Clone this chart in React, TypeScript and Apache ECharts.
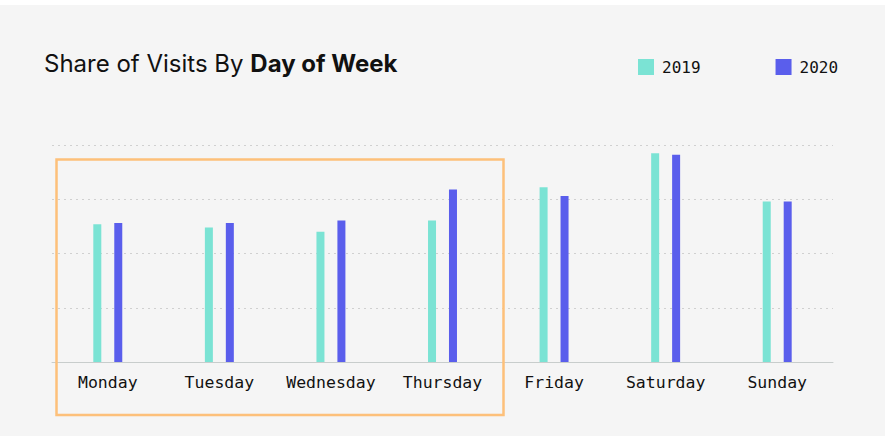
import React, { useEffect, useRef } from "react";
import * as echarts from "echarts";

const days = ["Monday", "Tuesday", "Wednesday", "Thursday", "Friday", "Saturday", "Sunday"];
const share2019 = [12.7, 12.4, 12.0, 13.05, 16.1, 19.25, 14.8];
const share2020 = [12.8, 12.8, 13.05, 15.9, 15.3, 19.1, 14.8];
const yTicks = [0, 5, 10, 15, 20];

const TEAL = "#7be3d4";
const BLUE = "#5a5eec";
const MONO = "'DejaVu Sans Mono', 'Liberation Mono', monospace";

export default function App() {
  const ref = useRef<HTMLDivElement>(null);
  useEffect(() => {
    if (!ref.current) return;
    const chart = echarts.init(ref.current, null, { renderer: "svg" });
    chart.setOption({
      animation: false,
      backgroundColor: "#ffffff",
      graphic: [
        {
          type: "rect",
          z: -10,
          silent: true,
          shape: { x: 0, y: 5, width: 885, height: 431 },
          style: { fill: "#f5f5f5" },
        },
        {
          type: "rect",
          z: 10,
          silent: true,
          shape: { x: 56.5, y: 159.5, width: 447, height: 255.5 },
          style: { fill: "none", stroke: "#fdc07a", lineWidth: 2.5 },
        },
      ],
      title: {
        left: 39,
        top: 46,
        text: "{r|Share of Visits By }{b|Day of Week}",
        textStyle: {
          rich: {
            r: { fontFamily: "Inter", fontSize: 24, fontWeight: 400, color: "#111" },
            b: { fontFamily: "Inter", fontSize: 24, fontWeight: 700, color: "#111" },
          },
        },
      },
      legend: {
        left: 633,
        top: 54,
        icon: "rect",
        itemWidth: 16,
        itemHeight: 16,
        itemGap: 75,
        textStyle: { fontFamily: MONO, fontSize: 16, color: "#111", padding: [0, 0, 0, 3] },
        data: ["2019", "2020"],
      },
      grid: { left: 52, right: 57, top: 145, bottom: 84, containLabel: false },
      xAxis: {
        type: "category",
        data: days,
        axisLine: { lineStyle: { color: "#c8cdcc", width: 1 } },
        axisTick: { show: false },
        axisLabel: { fontFamily: MONO, fontSize: 16.5, color: "#111", margin: 12, interval: 0 },
      },
      yAxis: {
        type: "value",
        min: yTicks[0],
        max: yTicks[yTicks.length - 1],
        interval: yTicks[1] - yTicks[0],
        axisLabel: { show: false },
        axisLine: { show: false },
        axisTick: { show: false },
        splitLine: { lineStyle: { color: "#d0d0d0", type: [2, 4], width: 1 } },
      },
      series: [
        { name: "2019", type: "bar", data: share2019, barWidth: 8, barGap: "162%", itemStyle: { color: TEAL } },
        { name: "2020", type: "bar", data: share2020, barWidth: 8, barGap: "162%", itemStyle: { color: BLUE } },
      ],
    });
    return () => chart.dispose();
  }, []);
  return (
    <div
      ref={ref}
      style={{ position: "absolute", left: 0, top: 0, width: 890, height: 446 }}
    />
  );
}
